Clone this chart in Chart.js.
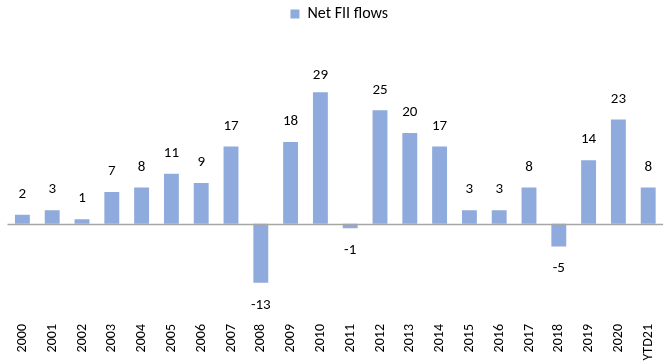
<!DOCTYPE html>
<html>
<head>
<meta charset="utf-8">
<script src="https://cdn.jsdelivr.net/npm/chart.js@4.4.1/dist/chart.umd.min.js"></script>
<style>
  html, body { margin: 0; padding: 0; background: #fff; overflow: hidden; }
  #wrap { position: relative; width: 671px; height: 362px; }
</style>
</head>
<body>
<div id="wrap"><canvas id="c"></canvas></div>
<script>
// Net FII flows by year (USD bn)
const years = ['2000','2001','2002','2003','2004','2005','2006','2007','2008','2009','2010',
               '2011','2012','2013','2014','2015','2016','2017','2018','2019','2020','YTD21'];
const netFiiFlows = [2, 3, 1, 7, 8, 11, 9, 17, -13, 18, 29, -1, 25, 20, 17, 3, 3, 8, -5, 14, 23, 8];
const seriesName = 'Net FII flows';

const FONT = 'Carlito, Calibri, Lato, sans-serif';
const BAR = '#8FAADC';

// extra space below the legend
const legendGap = {
  id: 'legendGap',
  beforeInit(chart) {
    const fit = chart.legend.fit;
    chart.legend.fit = function () {
      fit.bind(chart.legend)();
      this.height += 42;
    };
  }
};

// zero baseline across the plot
const zeroLine = {
  id: 'zeroLine',
  afterDatasetsDraw(chart) {
    const { ctx, chartArea, scales } = chart;
    const y = Math.round(scales.y.getPixelForValue(0)) + 0.5;
    ctx.save();
    ctx.strokeStyle = '#A6A6A6';
    ctx.lineWidth = 1.5;
    ctx.beginPath();
    ctx.moveTo(chartArea.left, y);
    ctx.lineTo(chartArea.right, y);
    ctx.stroke();
    ctx.restore();
  }
};

// value labels outside the bar ends, kept inside the plot area
const valueLabels = {
  id: 'valueLabels',
  afterDatasetsDraw(chart) {
    const { ctx, chartArea } = chart;
    const meta = chart.getDatasetMeta(0);
    const data = chart.data.datasets[0].data;
    ctx.save();
    ctx.font = '15px ' + FONT;
    ctx.fillStyle = '#000';
    ctx.textAlign = 'center';
    ctx.textBaseline = 'middle';
    meta.data.forEach((bar, i) => {
      const v = data[i];
      const y = v >= 0 ? Math.max(bar.y - 20.5, chartArea.top + 1) : bar.y + 22;
      ctx.fillText(String(v), bar.x, y);
    });
    ctx.restore();
  }
};

new Chart(document.getElementById('c'), {
  type: 'bar',
  data: {
    labels: years,
    datasets: [{
      label: seriesName,
      data: netFiiFlows,
      backgroundColor: BAR,
      borderWidth: 0,
      categoryPercentage: 1.0,
      barPercentage: 0.5
    }]
  },
  options: {
    responsive: true,
    maintainAspectRatio: false,
    animation: false,
    layout: { padding: { left: 7.5, right: 0, top: 0, bottom: 0 } },
    plugins: {
      legend: {
        display: true,
        position: 'top',
        labels: {
          boxWidth: 9,
          boxHeight: 9,
          color: '#000',
          padding: 6,
          font: { family: FONT, size: 16 }
        }
      },
      tooltip: { enabled: false }
    },
    scales: {
      x: {
        grid: { display: false },
        border: { display: false },
        ticks: {
          autoSkip: false,
          maxRotation: 90,
          minRotation: 90,
          color: '#000',
          padding: 6,
          font: { family: FONT, size: 14 }
        },
        afterFit(scale) { scale.height = 52; }
      },
      y: {
        display: false,
        min: -19,
        max: 33
      }
    }
  },
  plugins: [legendGap, zeroLine, valueLabels]
});
</script>
</body>
</html>
